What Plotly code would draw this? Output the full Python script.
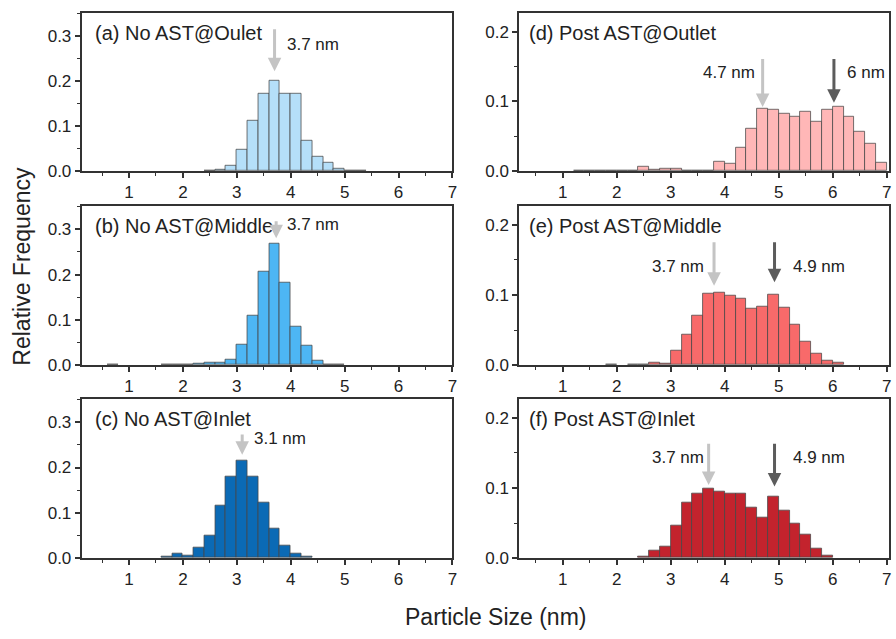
import plotly.graph_objects as go

# ---------------- data ----------------
a_centers = [2.5, 2.7, 2.9, 3.1, 3.3, 3.5, 3.7, 3.9, 4.1, 4.3, 4.5, 4.7, 4.9, 5.1, 5.3]
a_freq = [0.001, 0.003, 0.013, 0.048, 0.112, 0.171, 0.200, 0.171, 0.171, 0.067, 0.032, 0.019, 0.006, 0.001, 0.001]

b_centers = [0.7, 1.7, 1.9, 2.1, 2.3, 2.5, 2.7, 2.9, 3.1, 3.3, 3.5, 3.7, 3.9, 4.1, 4.3, 4.5, 4.7, 4.9]
b_freq = [0.002, 0.002, 0.002, 0.002, 0.004, 0.005, 0.006, 0.013, 0.046, 0.109, 0.206, 0.269, 0.181, 0.086, 0.042, 0.010, 0.002, 0.001]

c_centers = [1.7, 1.9, 2.1, 2.3, 2.5, 2.7, 2.9, 3.1, 3.3, 3.5, 3.7, 3.9, 4.1, 4.3]
c_freq = [0.003, 0.009, 0.006, 0.023, 0.050, 0.116, 0.179, 0.215, 0.179, 0.122, 0.064, 0.028, 0.009, 0.003]

d_centers = [1.3, 1.5, 1.7, 1.9, 2.1, 2.3, 2.5, 2.7, 2.9, 3.1, 3.3, 3.5, 3.7, 3.9, 4.1, 4.3, 4.5,
             4.7, 4.9, 5.1, 5.3, 5.5, 5.7, 5.9, 6.1, 6.3, 6.5, 6.7, 6.9]
d_freq = [0.001, 0.001, 0.001, 0.001, 0.001, 0.001, 0.006, 0.002, 0.004, 0.003, 0.001, 0.001, 0.001,
          0.014, 0.011, 0.034, 0.061, 0.090, 0.088, 0.082, 0.078, 0.085, 0.071, 0.088, 0.092, 0.078,
          0.057, 0.040, 0.012]

e_centers = [1.9, 2.3, 2.5, 2.7, 2.9, 3.1, 3.3, 3.5, 3.7, 3.9, 4.1, 4.3, 4.5, 4.7, 4.9, 5.1, 5.3,
             5.5, 5.7, 5.9, 6.1]
e_freq = [0.001, 0.001, 0.001, 0.004, 0.002, 0.020, 0.044, 0.070, 0.102, 0.103, 0.099, 0.094, 0.080,
          0.083, 0.100, 0.082, 0.057, 0.033, 0.016, 0.007, 0.004]

f_centers = [2.5, 2.7, 2.9, 3.1, 3.3, 3.5, 3.7, 3.9, 4.1, 4.3, 4.5, 4.7, 4.9, 5.1, 5.3, 5.5, 5.7, 5.9]
f_freq = [0.002, 0.011, 0.016, 0.046, 0.079, 0.092, 0.099, 0.094, 0.092, 0.092, 0.072, 0.057, 0.087,
          0.068, 0.049, 0.033, 0.013, 0.004]

panel_titles = ["(a) No AST@Oulet", "(b) No AST@Middle", "(c) No AST@Inlet",
                "(d) Post AST@Outlet", "(e) Post AST@Middle", "(f) Post AST@Inlet"]
panel_colors = ["#b5dff9", "#4db6f4", "#0b6ab5", "#ffb7b7", "#f86a6a", "#c3232d"]

x_ticks = [1, 2, 3, 4, 5, 6, 7]
y_ticks = [0.0, 0.1, 0.2, 0.3]
y_tick_labels = ["0.0", "0.1", "0.2", "0.3"]

# peak markers: (x, label)
peaks = {
    "a": [(3.7, "3.7 nm", "light")],
    "b": [(3.73, "3.7 nm", "light")],
    "c": [(3.1, "3.1 nm", "light")],
    "d": [(4.7, "4.7 nm", "light"), (6.02, "6 nm", "dark")],
    "e": [(3.8, "3.7 nm", "light"), (4.92, "4.9 nm", "dark")],
    "f": [(3.7, "3.7 nm", "light"), (4.92, "4.9 nm", "dark")],
}

# ---------------- layout ----------------
W, H = 896, 639
FONT = "Liberation Sans, Arial, sans-serif"
TXT = "#222222"

xdom_left = [82 / W, 455 / W]
xdom_right = [522 / W, 894 / W]
rows_px = [(13, 174), (209, 371), (405, 567)]
ydoms = [[1 - b / H, 1 - t / H] for t, b in rows_px]

series = [
    (a_centers, a_freq), (b_centers, b_freq), (c_centers, c_freq),
    (d_centers, d_freq), (e_centers, e_freq), (f_centers, f_freq),
]

fig = go.Figure()
layout = dict(
    width=W, height=H,
    margin=dict(l=0, r=0, t=0, b=0),
    paper_bgcolor="white", plot_bgcolor="white",
    showlegend=False,
    font=dict(family=FONT, color=TXT, size=17),
    bargap=0,
)

annotations = []

for i, (cx, fy) in enumerate(series):
    n = i + 1
    xa = "x" if n == 1 else f"x{n}"
    ya = "y" if n == 1 else f"y{n}"
    col = i // 3
    row = i % 3
    fig.add_trace(go.Bar(
        x=cx, y=fy, width=0.2,
        marker=dict(color=panel_colors[i], line=dict(color="rgba(70,70,70,0.75)", width=1)),
        xaxis=xa, yaxis=ya,
    ))
    xr = [0.12, 7.0] if col == 0 else [0.19, 7.04]
    yr = [0, 0.352] if col == 0 else [0, 0.227]
    layout["xaxis" if n == 1 else f"xaxis{n}"] = dict(
        domain=xdom_left if col == 0 else xdom_right,
        anchor=ya, range=xr,
        tickmode="array", tickvals=x_ticks, ticktext=[str(t) for t in x_ticks],
        ticks="outside", ticklen=5, tickwidth=1.5, tickcolor="#333",
        minor=dict(ticks="outside", ticklen=3, tickwidth=1.2, tickcolor="#333", dtick=0.5, tick0=0.5),
        showline=True, linecolor="#333", linewidth=1.6, mirror=True,
        showgrid=False, zeroline=False,
        tickfont=dict(size=17, family=FONT, color=TXT),
    )
    layout["yaxis" if n == 1 else f"yaxis{n}"] = dict(
        domain=ydoms[row], anchor=xa, range=yr,
        tickmode="array",
        tickvals=y_ticks if col == 0 else y_ticks[:3],
        ticktext=y_tick_labels if col == 0 else y_tick_labels[:3],
        ticks="outside", ticklen=5, tickwidth=1.5, tickcolor="#333",
        minor=dict(ticks="outside", ticklen=3, tickwidth=1.2, tickcolor="#333", dtick=0.05, tick0=0.05),
        showline=True, linecolor="#333", linewidth=1.6, mirror=True,
        showgrid=False, zeroline=False,
        tickfont=dict(size=17, family=FONT, color=TXT),
    )
    # panel title
    annotations.append(dict(
        text=panel_titles[i], xref=f"{xa} domain", yref=f"{ya} domain",
        x=0.03 if col == 0 else 0.022, y=0.875, xanchor="left", yanchor="middle",
        showarrow=False, font=dict(size=20, family=FONT, color=TXT),
    ))

# arrow / label geometry per panel (data coords)
arrow_geo = {
    "a": dict(ax="x", ay="y", top=[0.319], tip=[0.222], lab=[(4.42, 0.282)]),
    "b": dict(ax="x2", ay="y2", top=[0.321], tip=[0.280], lab=[(4.42, 0.310)]),
    "c": dict(ax="x3", ay="y3", top=[0.276], tip=[0.228], lab=[(3.81, 0.265)]),
    "d": dict(ax="x4", ay="y4", top=[0.163, 0.163], tip=[0.092, 0.098], lab=[(4.08, 0.142), (6.62, 0.142)]),
    "e": dict(ax="x5", ay="y5", top=[0.177, 0.177], tip=[0.113, 0.118], lab=[(3.14, 0.141), (5.74, 0.141)]),
    "f": dict(ax="x6", ay="y6", top=[0.165, 0.165], tip=[0.104, 0.102], lab=[(3.14, 0.143), (5.74, 0.143)]),
}
arrow_colors = {"light": "#c4c4c4", "dark": "#5c5c5c"}

for key, plist in peaks.items():
    g = arrow_geo[key]
    for j, (px, label, shade) in enumerate(plist):
        annotations.append(dict(
            x=px, y=g["tip"][j], ax=px, ay=g["top"][j],
            xref=g["ax"], yref=g["ay"], axref=g["ax"], ayref=g["ay"],
            text="", showarrow=True, arrowhead=2, arrowsize=0.9, arrowwidth=3,
            arrowcolor=arrow_colors[shade], standoff=0, startstandoff=0,
        ))
        lx, ly = g["lab"][j]
        annotations.append(dict(
            x=lx, y=ly, xref=g["ax"], yref=g["ay"], text=label, showarrow=False,
            xanchor="center", yanchor="middle", font=dict(size=17, family=FONT, color=TXT),
        ))

# axis titles
annotations.append(dict(
    text="Relative Frequency", xref="paper", yref="paper", x=22 / W, y=1 - 270 / H,
    xanchor="center", yanchor="middle", textangle=-90, showarrow=False,
    font=dict(size=23, family=FONT, color=TXT),
))
annotations.append(dict(
    text="Particle Size (nm)", xref="paper", yref="paper", x=498 / W, y=1 - 627 / H,
    xanchor="center", yanchor="middle", showarrow=False,
    font=dict(size=23, family=FONT, color=TXT),
))

layout["annotations"] = annotations
fig.update_layout(**layout)
fig.write_html("out.html")
